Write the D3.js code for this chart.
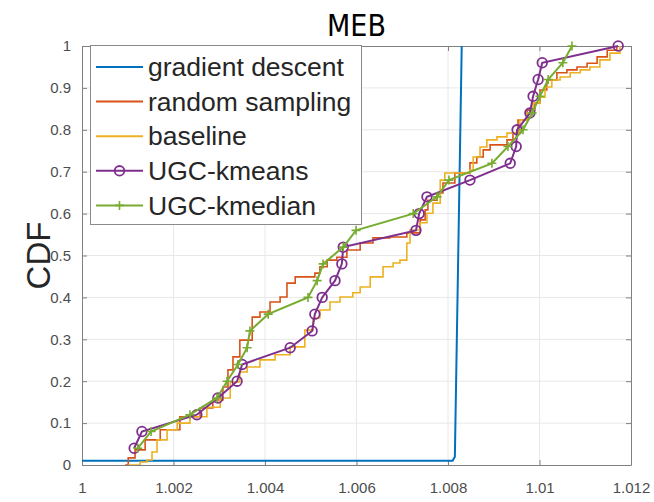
<!DOCTYPE html>
<html>
<head>
<meta charset="utf-8">
<script src="https://cdn.jsdelivr.net/npm/d3@7"></script>
<style>
  body { margin: 0; background: #fff; }
  svg { display: block; }
</style>
</head>
<body>
<div id="chart"></div>
<script>
// ---- data ----
const xTicks = [1, 1.002, 1.004, 1.006, 1.008, 1.01, 1.012];
const xTickLabels = ["1", "1.002", "1.004", "1.006", "1.008", "1.01", "1.012"];
const yTicks = [0, 0.1, 0.2, 0.3, 0.4, 0.5, 0.6, 0.7, 0.8, 0.9, 1];
const yTickLabels = ["0", "0.1", "0.2", "0.3", "0.4", "0.5", "0.6", "0.7", "0.8", "0.9", "1"];

const seriesNames = ["gradient descent", "random sampling", "baseline", "UGC-kmeans", "UGC-kmedian"];
const seriesColors = ["#0072BD", "#D95319", "#EDB120", "#7E2F8E", "#77AC30"];

const gradientX = [1.0, 1.0081, 1.00815, 1.0083];
const gradientY = [0.01, 0.01, 0.02, 1.0];

const randomX = [1.00094, 1.00101, 1.00116, 1.00138, 1.00171, 1.00214, 1.00258, 1.00286, 1.00308, 1.00319,
  1.00330, 1.00345, 1.00372, 1.00389, 1.00411, 1.00433, 1.00448, 1.00466, 1.00509, 1.00520,
  1.00536, 1.00557, 1.00579, 1.00608, 1.00636, 1.00673, 1.00710, 1.00739, 1.00750, 1.00756,
  1.00776, 1.00789, 1.00815, 1.00848, 1.00863, 1.00877, 1.00892, 1.00929, 1.00942, 1.00953,
  1.00973, 1.00990, 1.01001, 1.01016, 1.01038, 1.01060, 1.01082, 1.01104, 1.01126, 1.01148, 1.01169];
const randomY = [0, 0.017, 0.036, 0.06, 0.084, 0.115, 0.136, 0.155, 0.186, 0.227,
  0.258, 0.298, 0.353, 0.365, 0.389, 0.401, 0.434, 0.449, 0.458, 0.473,
  0.489, 0.496, 0.513, 0.530, 0.542, 0.544, 0.554, 0.585, 0.609, 0.632,
  0.649, 0.673, 0.697, 0.721, 0.735, 0.752, 0.764, 0.776, 0.792, 0.823,
  0.847, 0.864, 0.895, 0.919, 0.936, 0.943, 0.950, 0.959, 0.974, 0.990, 1.0];

const baselineX = [1.00101, 1.00127, 1.00142, 1.00153, 1.00164, 1.00186, 1.00208, 1.00236, 1.00273, 1.00302,
  1.00324, 1.00345, 1.00361, 1.00389, 1.00422, 1.00455, 1.00487, 1.00505, 1.00520, 1.00542,
  1.00564, 1.00592, 1.00608, 1.00630, 1.00658, 1.00680, 1.00695, 1.00710, 1.00717, 1.00739,
  1.00754, 1.00767, 1.00783, 1.00793, 1.00848, 1.00855, 1.00870, 1.00885, 1.00907, 1.00929,
  1.00957, 1.00973, 1.00986, 1.01001, 1.01012, 1.01027, 1.01045, 1.01067, 1.01089, 1.01110,
  1.01132, 1.01154, 1.01176];
const baselineY = [0, 0.007, 0.012, 0.031, 0.06, 0.084, 0.10, 0.115, 0.138, 0.16,
  0.198, 0.222, 0.234, 0.251, 0.263, 0.282, 0.322, 0.351, 0.370, 0.389,
  0.401, 0.411, 0.425, 0.449, 0.473, 0.482, 0.489, 0.530, 0.561, 0.578,
  0.601, 0.625, 0.680, 0.697, 0.704, 0.735, 0.759, 0.776, 0.783, 0.792,
  0.823, 0.840, 0.864, 0.878, 0.902, 0.919, 0.926, 0.936, 0.943, 0.950,
  0.967, 0.983, 1.0];

const ugcY = [0.04, 0.08, 0.12, 0.16, 0.20, 0.24, 0.28, 0.32, 0.36, 0.40, 0.44, 0.48, 0.52,
  0.56, 0.60, 0.64, 0.68, 0.72, 0.76, 0.80, 0.84, 0.88, 0.92, 0.96, 1.00];
const kmeansX = [1.00114, 1.00131, 1.00251, 1.00297, 1.00339, 1.00350, 1.00455, 1.00503, 1.00509,
  1.00525, 1.00553, 1.00568, 1.00571, 1.00730, 1.00737, 1.00754, 1.00848, 1.00936, 1.00949,
  1.00951, 1.00979, 1.00986, 1.00997, 1.01006, 1.01172];
const kmedianX = [1.00122, 1.00151, 1.00236, 1.00295, 1.00317, 1.00341, 1.00361, 1.00367, 1.00407,
  1.00494, 1.00514, 1.00527, 1.00571, 1.00599, 1.00724, 1.00776, 1.00802, 1.00896, 1.00931,
  1.00964, 1.00984, 1.01001, 1.01019, 1.01051, 1.01071];

// ---- chart ----
const w = 654;
const h = 502;
const margin = { top: 46, right: 23, bottom: 37, left: 82 };

const svg = d3.select("#chart").append("svg")
  .attr("width", w)
  .attr("height", h);

const x = d3.scaleLinear().domain([1, 1.012]).range([margin.left, w - margin.right]);
const y = d3.scaleLinear().domain([0, 1]).range([h - margin.bottom, margin.top]);

const axisColor = "#808080";
const labelFont = "'Liberation Sans', Arial, Helvetica, sans-serif";

// grid
svg.append("g").selectAll("line")
  .data(xTicks.slice(1, -1))
  .join("line")
  .attr("x1", d => x(d)).attr("x2", d => x(d))
  .attr("y1", y(0)).attr("y2", y(1))
  .attr("stroke", "#e8e8e8");

svg.append("g").selectAll("line")
  .data(yTicks.slice(1, -1))
  .join("line")
  .attr("y1", d => y(d)).attr("y2", d => y(d))
  .attr("x1", x(1)).attr("x2", x(1.012))
  .attr("stroke", "#e8e8e8");

// axes (ticks pointing inward, box around)
function styleAxis(g) {
  g.selectAll(".domain").attr("stroke", axisColor);
  g.selectAll(".tick line").attr("stroke", axisColor);
  g.selectAll(".tick text")
    .attr("fill", "#4d4d4d")
    .style("font-family", labelFont)
    .style("font-size", "15px");
}

svg.append("g")
  .attr("transform", `translate(0,${y(0)})`)
  .call(d3.axisBottom(x).tickValues(xTicks)
    .tickFormat((d, i) => xTickLabels[i])
    .tickSize(-5).tickSizeOuter(0).tickPadding(17))
  .call(styleAxis);

svg.append("g")
  .attr("transform", `translate(0,${y(1)})`)
  .call(d3.axisTop(x).tickValues(xTicks).tickFormat("")
    .tickSize(-5).tickSizeOuter(0))
  .call(styleAxis);

svg.append("g")
  .attr("transform", `translate(${x(1)},0)`)
  .call(d3.axisLeft(y).tickValues(yTicks)
    .tickFormat((d, i) => yTickLabels[i])
    .tickSize(-5).tickSizeOuter(0).tickPadding(11))
  .call(styleAxis);

svg.append("g")
  .attr("transform", `translate(${x(1.012)},0)`)
  .call(d3.axisRight(y).tickValues(yTicks).tickFormat("")
    .tickSize(-5).tickSizeOuter(0))
  .call(styleAxis);

// clip
svg.append("clipPath").attr("id", "plot-clip")
  .append("rect")
  .attr("x", x(1)).attr("y", y(1) - 6)
  .attr("width", x(1.012) - x(1) + 6)
  .attr("height", y(0) - y(1) + 6);

const plot = svg.append("g").attr("clip-path", "url(#plot-clip)");

const zip = (xs, ys) => xs.map((v, i) => [v, ys[i]]);

const stepLine = d3.line()
  .x(d => x(d[0])).y(d => y(d[1]))
  .curve(d3.curveStepAfter);
const straightLine = d3.line()
  .x(d => x(d[0])).y(d => y(d[1]));

plot.append("path")
  .attr("d", straightLine(zip(gradientX, gradientY)))
  .attr("fill", "none").attr("stroke", seriesColors[0]).attr("stroke-width", 2);

plot.append("path")
  .attr("d", stepLine(zip(randomX, randomY)))
  .attr("fill", "none").attr("stroke", seriesColors[1]).attr("stroke-width", 1.6);

plot.append("path")
  .attr("d", stepLine(zip(baselineX, baselineY)))
  .attr("fill", "none").attr("stroke", seriesColors[2]).attr("stroke-width", 1.6);

const kmeans = zip(kmeansX, ugcY);
plot.append("path")
  .attr("d", straightLine(kmeans))
  .attr("fill", "none").attr("stroke", seriesColors[3]).attr("stroke-width", 2);
plot.append("g").selectAll("circle")
  .data(kmeans)
  .join("circle")
  .attr("cx", d => x(d[0])).attr("cy", d => y(d[1]))
  .attr("r", 4.8)
  .attr("fill", "none").attr("stroke", seriesColors[3]).attr("stroke-width", 1.8);

const kmedian = zip(kmedianX, ugcY);
plot.append("path")
  .attr("d", straightLine(kmedian))
  .attr("fill", "none").attr("stroke", seriesColors[4]).attr("stroke-width", 2);
plot.append("g").selectAll("path")
  .data(kmedian)
  .join("path")
  .attr("d", d => {
    const cx = x(d[0]), cy = y(d[1]), s = 4.5;
    return `M${cx - s},${cy}H${cx + s}M${cx},${cy - s}V${cy + s}`;
  })
  .attr("stroke", seriesColors[4]).attr("stroke-width", 1.6);

// title and y label
svg.append("text")
  .attr("x", (x(1) + x(1.012)) / 2)
  .attr("y", 36)
  .attr("text-anchor", "middle")
  .style("font-family", "'Liberation Sans Narrow', 'DejaVu Sans Condensed', sans-serif")
  .style("font-size", "30px")
  .attr("fill", "#000")
  .text("MEB");

svg.append("text")
  .attr("transform", `translate(50,${y(0.5)}) rotate(-90)`)
  .attr("text-anchor", "middle")
  .style("font-family", labelFont)
  .style("font-size", "33px")
  .attr("fill", "#262626")
  .text("CDF");

// legend
const legend = svg.append("g");
legend.append("rect")
  .attr("x", 90.5).attr("y", 45.5)
  .attr("width", 271).attr("height", 179)
  .attr("fill", "#fff")
  .attr("stroke", "#8a8a8a");

seriesNames.forEach((name, i) => {
  const ry = 67 + i * 34.6;
  const row = legend.append("g");
  row.append("line")
    .attr("x1", 96).attr("x2", 143)
    .attr("y1", ry).attr("y2", ry)
    .attr("stroke", seriesColors[i])
    .attr("stroke-width", 2);
  if (i === 3) {
    row.append("circle")
      .attr("cx", 119.5).attr("cy", ry).attr("r", 4.8)
      .attr("fill", "none").attr("stroke", seriesColors[i]).attr("stroke-width", 1.8);
  }
  if (i === 4) {
    row.append("path")
      .attr("d", `M${115},${ry}H${124}M${119.5},${ry - 4.5}V${ry + 4.5}`)
      .attr("stroke", seriesColors[i]).attr("stroke-width", 1.6);
  }
  row.append("text")
    .attr("x", 148).attr("y", ry)
    .attr("dy", "0.35em")
    .style("font-family", labelFont)
    .style("font-size", "26.5px")
    .attr("fill", "#262626")
    .text(name);
});
</script>
</body>
</html>
